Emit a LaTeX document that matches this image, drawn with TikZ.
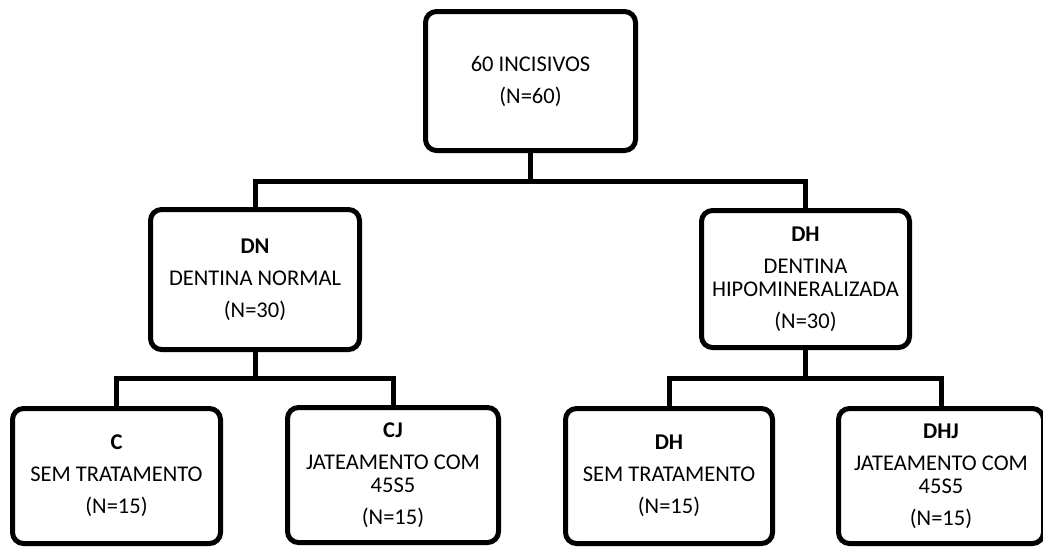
\documentclass[tikz,border=0pt]{standalone}
\usepackage{fontspec}
\setmainfont{Carlito}
\begin{document}
\begin{tikzpicture}[x=1pt,y=-1pt,
  box/.style={draw=black,line width=5pt,rounded corners=11pt,align=center,
    inner sep=0pt,font=\fontsize{22.5}{23}\selectfont},
  link/.style={draw=black,line width=5pt,line join=miter,line cap=rect}]
\useasboundingbox (0,0) rectangle (1043,547);
\node[box,minimum width=210pt,minimum height=139pt] (top) at (530.5,81)
  {60 INCISIVOS\\[9pt](N=60)};
\node[box,minimum width=209pt,minimum height=140pt] (dn) at (255,279.5)
  {\textbf{DN}\\[9pt]DENTINA NORMAL\\[9pt](N=30)};
\node[box,minimum width=208pt,minimum height=137pt] (dhm) at (805.5,279)
  {\textbf{DH}\\[9pt]DENTINA\\HIPOMINERALIZADA\\[9pt](N=30)};
\node[box,minimum width=208pt,minimum height=135pt] (c) at (116.5,476)
  {\textbf{C}\\[9pt]SEM TRATAMENTO\\[9pt](N=15)};
\node[box,minimum width=211pt,minimum height=135pt] (cj) at (393,475)
  {\textbf{CJ}\\[9pt]JATEAMENTO COM\\45S5\\[9pt](N=15)};
\node[box,minimum width=207pt,minimum height=135pt] (dhb) at (669,476)
  {\textbf{DH}\\[9pt]SEM TRATAMENTO\\[9pt](N=15)};
\node[box,minimum width=205pt,minimum height=135pt] (dhj) at (941,476)
  {\textbf{DHJ}\\[9pt]JATEAMENTO COM\\45S5\\[9pt](N=15)};
\coordinate (bar1) at (0,181);
\coordinate (bar2) at (0,378);
\draw[link] (top.south) -- (top.south |- bar1);
\draw[link] (dn.north) -- (dn.north |- bar1) -- (dhm.north |- bar1) -- (dhm.north);
\draw[link] (dn.south) -- (dn.south |- bar2);
\draw[link] (c.north) -- (c.north |- bar2) -- (cj.north |- bar2) -- (cj.north);
\draw[link] (dhm.south) -- (dhm.south |- bar2);
\draw[link] (dhb.north) -- (dhb.north |- bar2) -- (dhj.north |- bar2) -- (dhj.north);
\end{tikzpicture}
\end{document}
